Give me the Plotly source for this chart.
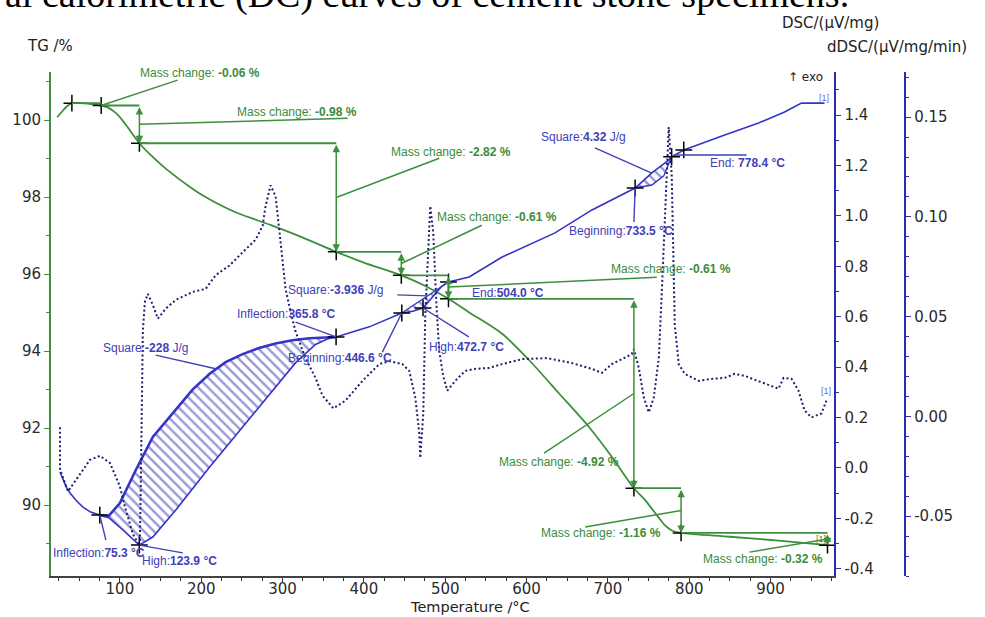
import numpy as np
import plotly.graph_objects as go

# ---------------- TG curve (mass, %) ----------------
tg_temp = [23, 30, 35, 41, 50, 60, 77, 85, 93, 100, 110, 124, 140, 157.5, 187, 203,
           243, 285, 325, 366, 400, 446, 475, 504, 530, 570, 603, 640, 676.7, 705,
           732, 745, 755, 762, 770, 778, 790, 850, 910, 970]
tg_mass = [100.08, 100.25, 100.36, 100.44, 100.44, 100.43, 100.38, 100.33, 100.22,
           100.08, 99.80, 99.40, 99.05, 98.72, 98.25, 98.03, 97.60, 97.28, 96.95,
           96.58, 96.30, 95.97, 95.70, 95.36, 95.00, 94.45, 93.77, 92.90, 92.03,
           91.25, 90.44, 90.15, 89.88, 89.69, 89.48, 89.35, 89.28, 89.18, 89.08, 88.96]

# ---------------- DSC curve (uV/mg) ----------------
dsc_temp = [26.4, 30, 34, 38.7, 46, 54.6, 64, 75.3, 85.3, 103.7, 123.9, 140.5, 168.7,
            210.4, 250.9, 291.4, 315.9, 340.5, 355, 365.8, 406.7, 446.6, 460, 472.7, 485,
            496, 504.0, 529.4, 570, 635, 680.4, 705, 733.5, 754, 774.8, 778.4, 793.3,
            843.6, 885.3, 917.2, 938, 966.3]
dsc_signal = [-0.016, -0.045, -0.075, -0.099, -0.128, -0.155, -0.175, -0.187, -0.194,
              -0.246, -0.306, -0.274, -0.167, 0.004, 0.163, 0.321, 0.417, 0.490, 0.512,
              0.520, 0.560, 0.615, 0.622, 0.635, 0.680, 0.722, 0.738, 0.758, 0.837, 0.933,
              1.024, 1.063, 1.111, 1.171, 1.222, 1.235, 1.262, 1.321, 1.369, 1.413,
              1.448, 1.448]

# ---------------- peak baselines ----------------
peak1_base_temp = [75.3, 85.3, 100, 119.6, 140.5, 168.7, 189.6, 210.4, 230, 250.9, 270,
                   291.4, 312, 333.1, 365.8]
peak1_base_signal = [-0.187, -0.194, -0.139, -0.008, 0.123, 0.232, 0.312, 0.374, 0.420,
                     0.452, 0.475, 0.494, 0.507, 0.515, 0.520]
peak2_base_temp = [446.6, 504.0]
peak2_base_signal = [0.615, 0.738]
peak3_base_temp = [733.5, 754, 768.7, 776, 778.4]
peak3_base_signal = [1.111, 1.123, 1.159, 1.218, 1.235]

# ---------------- dDSC curve (uV/mg/min) ----------------
ddsc_temp = [26.4, 26.4, 26.4, 36.2, 46, 63.2, 75.5, 87.7, 100, 106, 116, 124.5, 125.8,
             127, 128.2, 130.7, 134.4, 140.5, 146.6, 156.4, 168.7, 189.6, 205.5, 217.8,
             235, 250.9, 266.9, 275.5, 279.1, 285.3, 291.4, 296.3, 300, 303.7, 309.8,
             315.9, 328.2, 340.5, 349.1, 362.6, 377.3, 398.2, 419, 431.3, 447.2, 455.8,
             463.2, 468.1, 469.3, 473, 475.5, 479.1, 481.6, 485.3, 489, 492.6, 497.5,
             502.5, 512.3, 524.5, 536.8, 554, 570, 594.5, 625, 656, 680.4, 692.6, 704.9,
             717.2, 729.4, 732, 738, 744.2, 750.3, 756.4, 762.6, 766.3, 770, 773.6,
             774.8, 778.5, 781, 782.2, 787.1, 794.5, 811.7, 827.6, 843.6, 855.8, 868.1,
             885.3, 901.2, 909.8, 916, 925.8, 934.4, 941.7, 950.3, 962.6, 968.7]
ddsc_signal = [-0.0054, -0.0134, -0.0267, -0.0376, -0.0317, -0.0218, -0.0198, -0.0233,
               -0.0351, -0.045, -0.059, -0.0649, -0.0317, 0.0079, 0.0426, 0.0574, 0.0614,
               0.0559, 0.049, 0.054, 0.0584, 0.0624, 0.0639, 0.0708, 0.0757, 0.0822,
               0.0886, 0.0955, 0.1054, 0.1158, 0.1104, 0.0921, 0.0787, 0.0639, 0.0525,
               0.0426, 0.0292, 0.0193, 0.0104, 0.004, 0.0079, 0.0178, 0.0262, 0.0277,
               0.0262, 0.0228, 0.0094, -0.0084, -0.0208, 0.0015, 0.051, 0.0837, 0.1054,
               0.0921, 0.0574, 0.0327, 0.0203, 0.0129, 0.0178, 0.0228, 0.0238, 0.0243,
               0.0262, 0.0287, 0.0292, 0.0267, 0.0238, 0.0218, 0.0262, 0.0287, 0.0312,
               0.0337, 0.0243, 0.0094, 0.002, 0.0094, 0.0292, 0.0624, 0.0955, 0.1282,
               0.145, 0.1203, 0.0787, 0.046, 0.0262, 0.0213, 0.0178, 0.0188, 0.0193,
               0.0213, 0.0203, 0.0178, 0.0153, 0.0139, 0.0193, 0.0188, 0.0129, 0.003,
               -0.0005, 0.0015, 0.0079]

# ---------------- TG step evaluation ----------------
step_temps = [41, 77, 124, 366, 446, 504, 732, 790, 970]
mass_changes = [-0.06, -0.98, -2.82, -0.61, -0.61, -4.92, -1.16, -0.32]
tg_initial = 100.44

# ---------------- DSC evaluation ----------------
inflection_temps = [75.3, 365.8]
high_temps = [123.9, 472.7]
beginning_temps = [446.6, 733.5]
end_temps = [504.0, 778.4]
peak_areas = [-228, -3.936, 4.32]

# ---------------- axis ticks ----------------
temp_ticks = [100, 200, 300, 400, 500, 600, 700, 800, 900]
tg_ticks = [90, 92, 94, 96, 98, 100]
dsc_ticks = [-0.4, -0.2, 0.0, 0.2, 0.4, 0.6, 0.8, 1.0, 1.2, 1.4]
ddsc_ticks = [-0.05, 0.0, 0.05, 0.10, 0.15]

GREEN = "#3d8f3d"
GREEN_TXT = "#3a8c3a"
BLUE = "#3434c8"
HATCH = "#2f2fb8"
BLUE_TXT = "#4040b8"
NAVY = "#1d1d72"
AXBLUE = "#2c2cae"
FONT = "Liberation Sans"
TICKFONT = dict(family="DejaVu Sans", size=15, color="#2a2a2a")

# plot area in pixels
PL, PT, PW, PH = 48, 72, 912, 504


def px(x):
    return (x - PL) / PW


def py(y):
    return (PT + PH - y) / PH


def hyphen_labels(vals, fmt):
    return [format(v, fmt).replace("−", "-") for v in vals]


levels = np.concatenate([[tg_initial], tg_initial + np.cumsum(mass_changes)])
dsc_at = lambda t: float(np.interp(t, dsc_temp, dsc_signal))

fig = go.Figure()


# hatched peak areas between the DSC curve and its baseline
def hatch(curve_t, curve_v, base_t, base_v):
    xs = list(base_t) + list(curve_t[::-1])
    ys = list(base_v) + list(curve_v[::-1])
    fig.add_trace(go.Scatter(
        x=xs, y=ys, yaxis="y2", mode="lines", fill="toself",
        line=dict(color="rgba(0,0,0,0)", width=0),
        fillcolor="rgba(0,0,0,0)",
        fillpattern=dict(shape="\\", fgcolor=HATCH, bgcolor="rgba(255,255,255,0)",
                         size=7, solidity=0.33),
        hoverinfo="skip", showlegend=False))


t_arr = np.array(dsc_temp)
v_arr = np.array(dsc_signal)
for (t0, t1), (bt, bv) in zip(
        [(75.3, 365.8), (446.6, 504.0), (733.5, 778.4)],
        [(peak1_base_temp, peak1_base_signal), (peak2_base_temp, peak2_base_signal),
         (peak3_base_temp, peak3_base_signal)]):
    m = (t_arr >= t0) & (t_arr <= t1)
    hatch(t_arr[m], v_arr[m], bt, bv)

# dDSC (dotted)
fig.add_trace(go.Scatter(x=ddsc_temp, y=ddsc_signal, yaxis="y3", mode="lines",
                         line=dict(color=NAVY, width=2, dash="2px,2.5px"),
                         showlegend=False))

# TG curve
fig.add_trace(go.Scatter(x=tg_temp, y=tg_mass, mode="lines",
                         line=dict(color=GREEN, width=1.8, shape="spline", smoothing=0.8),
                         showlegend=False))

# DSC curve and baselines
fig.add_trace(go.Scatter(x=dsc_temp, y=dsc_signal, yaxis="y2", mode="lines",
                         line=dict(color=BLUE, width=1.6), showlegend=False))
fig.add_trace(go.Scatter(x=peak1_base_temp, y=peak1_base_signal, yaxis="y2", mode="lines",
                         line=dict(color=BLUE, width=2.6), showlegend=False))
fig.add_trace(go.Scatter(x=peak2_base_temp, y=peak2_base_signal, yaxis="y2", mode="lines",
                         line=dict(color=BLUE, width=1.4), showlegend=False))
fig.add_trace(go.Scatter(x=peak3_base_temp, y=peak3_base_signal, yaxis="y2", mode="lines",
                         line=dict(color=BLUE, width=1.4), showlegend=False))

# TG step construction lines
shapes = []
annotations = []
for i, dm in enumerate(mass_changes):
    ta, tb = step_temps[i], step_temps[i + 1]
    shapes.append(dict(type="line", xref="x", yref="y", x0=ta, x1=tb,
                       y0=levels[i], y1=levels[i], line=dict(color=GREEN, width=1.8)))
    if abs(dm) > 0.2:
        annotations.append(dict(x=tb, y=levels[i + 1], ax=tb, ay=levels[i], xref="x",
                                yref="y", axref="x", ayref="y", text="", showarrow=True,
                                arrowhead=2, arrowside="end+start", arrowsize=1,
                                arrowwidth=1.5, arrowcolor=GREEN, standoff=0,
                                startstandoff=0))

# mass-change labels: (text anchor T, TG) and leader end (T, TG)
mc_label_pos = [(122, 101.22), (241, 100.21), (431, 99.17), (488, 97.48),
                (701, 96.13), (563.8, 91.12), (615, 89.27), (815, 88.60)]
mc_leader_end = [(171, 101.04), (380, 100.05), (492.6, 99.01), (545, 97.27),
                 (760, 95.92), (621.5, 91.35), (672, 89.43), (874, 88.78)]
for i, dm in enumerate(mass_changes):
    tb = step_temps[i + 1]
    ymid = levels[i + 1] if i == 0 else (levels[i] + levels[i + 1]) / 2
    shapes.append(dict(type="line", xref="x", yref="y", x0=tb, y0=ymid,
                       x1=mc_leader_end[i][0], y1=mc_leader_end[i][1],
                       line=dict(color=GREEN, width=1.5)))
    annotations.append(dict(x=mc_label_pos[i][0], y=mc_label_pos[i][1], xref="x", yref="y",
                            xanchor="left", yanchor="middle", showarrow=False,
                            text=f"Mass change: <b>{dm:.2f} %</b>",
                            font=dict(family=FONT, size=12, color=GREEN_TXT)))

# TG markers
fig.add_trace(go.Scatter(x=step_temps, y=levels, mode="markers",
                         marker=dict(symbol="cross-thin", size=12,
                                     line=dict(color="black", width=1.5)),
                         showlegend=False))

# DSC event markers
event_temps = inflection_temps + high_temps + beginning_temps + end_temps + [793.3]
fig.add_trace(go.Scatter(x=event_temps, y=[dsc_at(t) for t in event_temps], yaxis="y2",
                         mode="markers",
                         marker=dict(symbol="cross-thin", size=12,
                                     line=dict(color="black", width=1.5)),
                         showlegend=False))

# DSC labels: text, anchor (T, DSC), leader from, leader to
dsc_labels = [
    (f"Square:<b>{peak_areas[0]:g}</b> J/g", (76.7, 0.476), (144, 0.448), (217.8, 0.394)),
    (f"Inflection:<b>{inflection_temps[1]:.1f} °C</b>", (242, 0.611), (316, 0.579),
     (inflection_temps[1], dsc_at(inflection_temps[1]))),
    (f"Square:<b>{peak_areas[1]:.3f}</b> J/g", (303.7, 0.706), (441, 0.687), (478, 0.683)),
    (f"Beginning:<b>{beginning_temps[0]:.1f} °C</b>", (303.7, 0.437), (422.7, 0.46),
     (beginning_temps[0], dsc_at(beginning_temps[0]))),
    (f"High:<b>{high_temps[1]:.1f} °C</b>", (477.9, 0.48),
     (high_temps[1], dsc_at(high_temps[1])), (529, 0.52)),
    (f"End:<b>{end_temps[0]:.1f} °C</b>", (530.7, 0.694), None, None),
    (f"Square:<b>{peak_areas[2]:.2f}</b> J/g", (615, 1.313), (684, 1.27), (754, 1.17)),
    (f"Beginning:<b>{beginning_temps[1]:.1f} °C</b>", (649.7, 0.94), (732, 0.976),
     (beginning_temps[1], dsc_at(beginning_temps[1]))),
    (f"End: <b>{end_temps[1]:.1f} °C</b>", (822.7, 1.21), (781, 1.242), (870.5, 1.242)),
    (f"Inflection:<b>{inflection_temps[0]:.1f} °C</b>", (15.5, -0.337), (82.8, -0.286),
     (inflection_temps[0], dsc_at(inflection_temps[0]))),
    (f"High:<b>{high_temps[0]:.1f} °C</b>", (124.5, -0.369),
     (high_temps[0], dsc_at(high_temps[0])), (177.3, -0.337)),
]
for text, (lx, ly), a, b in dsc_labels:
    if a is not None:
        shapes.append(dict(type="line", xref="x", yref="y2", x0=a[0], y0=a[1],
                           x1=b[0], y1=b[1], line=dict(color=BLUE_TXT, width=1.4)))
    annotations.append(dict(x=lx, y=ly, xref="x", yref="y2", xanchor="left",
                            yanchor="middle", showarrow=False, text=text,
                            font=dict(family=FONT, size=12, color=BLUE_TXT)))

# segment end tags
for x, y, yr, col in [(966.3, 1.47, "y2", "#6a6ad0"), (968.7, 0.0125, "y3", "#6a6ad0"),
                      (962, 89.12, "y", GREEN_TXT)]:
    annotations.append(dict(x=x, y=y, xref="x", yref=yr, xanchor="center",
                            yanchor="middle", showarrow=False, text="[1]",
                            font=dict(family=FONT, size=9, color=col)))

# axis titles and caption
paper_texts = [
    ("TG /%", 47, 46, 15),
    ("DSC/(µV/mg)", 830, 23, 15),
    ("dDSC/(µV/mg/min)", 897, 47, 15),
    ("Temperature /°C", 468, 607, 14.5),
    ("↑ exo", 805, 77, 12),
]
for text, x, y, size in paper_texts:
    annotations.append(dict(x=px(x), y=py(y), xref="paper", yref="paper",
                            xanchor="center", yanchor="middle", showarrow=False, text=text,
                            font=dict(family="DejaVu Sans", size=size, color="#222")))
annotations.append(dict(x=px(0), y=py(-6), xref="paper", yref="paper", xanchor="left",
                        yanchor="middle", showarrow=False,
                        text="al calorimetric (DC) curves of cement stone specimens.",
                        font=dict(family="Liberation Serif", size=38, color="black")))

xdom_end = px(834)
fig.update_layout(
    width=985, height=617,
    margin=dict(l=PL, r=985 - PL - PW, t=PT, b=617 - PT - PH),
    paper_bgcolor="white", plot_bgcolor="white",
    showlegend=False,
    shapes=shapes, annotations=annotations,
    xaxis=dict(domain=[0, xdom_end], range=[15.3, 978.5], tickvals=temp_ticks,
               ticks="outside", ticklen=5, tickcolor="#333", showline=True, linecolor="#444",
               linewidth=1.5, showgrid=False, zeroline=False, tickfont=TICKFONT,
               ticklabelstandoff=-7,
               minor=dict(dtick=25, tick0=0, ticks="outside", ticklen=3, tickcolor="#333")),
    yaxis=dict(range=[88.16, 101.25], tickvals=tg_ticks, ticks="outside",
               ticklen=5, tickcolor=GREEN, showline=True, linecolor=GREEN, linewidth=2,
               showgrid=False, zeroline=False, tickfont=TICKFONT,
               minor=dict(dtick=1, ticks="outside", ticklen=3, tickcolor=GREEN)),
    yaxis2=dict(overlaying="y", side="right", anchor="x", range=[-0.4286, 1.5714],
                tickvals=dsc_ticks, ticktext=hyphen_labels(dsc_ticks, ".1f"),
                ticks="outside", ticklen=5, tickcolor=AXBLUE, showline=True, linecolor=AXBLUE,
                linewidth=2, showgrid=False, zeroline=False, tickfont=TICKFONT,
                minor=dict(dtick=0.1, tick0=0, ticks="outside", ticklen=3, tickcolor=AXBLUE)),
    yaxis3=dict(overlaying="y", side="right", anchor="free", position=px(905),
                range=[-0.0800, 0.1726], tickvals=ddsc_ticks,
                ticktext=hyphen_labels(ddsc_ticks, ".2f"), ticks="outside", ticklen=5,
                tickcolor=AXBLUE, showline=True, linecolor=AXBLUE, linewidth=2,
                showgrid=False, zeroline=False, tickfont=TICKFONT,
                minor=dict(dtick=0.01, tick0=0, ticks="outside", ticklen=3,
                           tickcolor=AXBLUE)),
)

fig.write_html("out.html")
